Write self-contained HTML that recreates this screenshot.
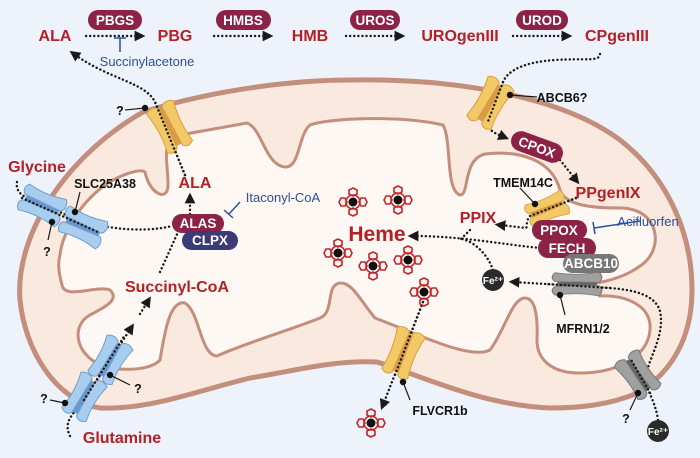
<!DOCTYPE html>
<html><head><meta charset="utf-8"><style>
html,body{margin:0;padding:0;background:#eef3fb}
svg{display:block}
text{font-family:"Liberation Sans",sans-serif}
.r{fill:#b32025;font-weight:bold;font-size:16px}
.k{fill:#111;font-weight:bold;font-size:12.5px}
.b{fill:#2c4f9c;font-size:13px}
.w{fill:#fff;font-weight:bold;font-size:13.5px}
.d{fill:none;stroke:#1a1a1a;stroke-width:2.4;stroke-dasharray:0.1 4;stroke-linecap:round}
.p{fill:none;stroke:#1a1a1a;stroke-width:1.2}
</style></head><body>
<svg width="700" height="458" viewBox="0 0 700 458" xmlns="http://www.w3.org/2000/svg">
<defs>
<g id="chy">
 <rect x="-6" y="-20" width="12" height="40" fill="#d99a4a"/>
 <path d="M-15,-22 Q-8,-27 -2,-22 L-3,22 Q-8,27 -14,22 Q-10,0 -15,-22Z" fill="#f3c866" stroke="#d9a03c" stroke-width="1"/>
 <path d="M15,-22 Q8,-27 2,-22 L3,22 Q8,27 14,22 Q10,0 15,-22Z" fill="#f3c866" stroke="#d9a03c" stroke-width="1"/>
</g>
<g id="chb">
 <rect x="-6" y="-18" width="12" height="36" fill="#6b98cc"/>
 <path d="M-15,-20 Q-8,-25 -2,-20 L-3,20 Q-8,25 -14,20 Q-10,0 -15,-20Z" fill="#a8cdee" stroke="#6f9fd0" stroke-width="1"/>
 <path d="M15,-20 Q8,-25 2,-20 L3,20 Q8,25 14,20 Q10,0 15,-20Z" fill="#a8cdee" stroke="#6f9fd0" stroke-width="1"/>
</g>
<g id="chg">
 <rect x="-6" y="-18" width="12" height="36" fill="#666"/>
 <path d="M-15,-20 Q-8,-25 -2,-20 L-3,20 Q-8,25 -14,20 Q-10,0 -15,-20Z" fill="#a0a0a0" stroke="#777" stroke-width="1"/>
 <path d="M15,-20 Q8,-25 2,-20 L3,20 Q8,25 14,20 Q10,0 15,-20Z" fill="#a0a0a0" stroke="#777" stroke-width="1"/>
</g>
<g id="hm" fill="none" stroke="#c0262a" stroke-width="1.6">
 <circle r="7"/>
 <polygon points="0,-14 4,-12 4,-8 0,-6 -4,-8 -4,-12"/>
 <polygon points="0,14 4,12 4,8 0,6 -4,8 -4,12"/>
 <polygon points="-14,0 -12,4 -8,4 -6,0 -8,-4 -12,-4"/>
 <polygon points="14,0 12,4 8,4 6,0 8,-4 12,-4"/>
 <circle r="4.5" fill="#111" stroke="none"/>
</g>
<marker id="ar" viewBox="0 0 10 10" refX="5" refY="5" markerWidth="4.5" markerHeight="4.5" orient="auto"><path d="M0,0 L10,5 L0,10Z" fill="#1a1a1a"/></marker>
</defs>
<rect width="700" height="458" fill="#eef3fb"/>
<path d="M20,300 C15,240 60,160 143,112 C220,88 300,80 350,80 C450,78 560,95 620,140 C665,175 692,230 692,290 C692,340 670,372 640,392 C610,405 580,408 550,408 C480,405 420,375 377,362 C330,360 290,372 250,378 C200,390 150,410 100,408 C55,400 25,350 20,300Z" fill="#f9e9df" stroke="#c48e7c" stroke-width="5"/>
<path d="M60,255 C62,235 78,205 105,185 C120,175 140,168 145,172 C150,195 168,202 168,185 C168,160 160,140 180,135 L247,123 C262,128 265,165 285,167 C300,168 298,135 310,125 C330,118 400,115 443,125 C452,140 445,190 460,195 C470,195 462,160 485,154 C520,150 552,160 560,190 C565,205 590,208 620,208 C660,208 665,250 640,266 C625,277 605,282 590,284 L600,296 C625,295 652,305 650,330 C648,355 620,372 583,373 C555,374 537,362 537,340 C538,315 535,298 525,298 C512,298 505,330 490,350 C470,360 420,335 375,318 C360,300 352,282 340,283 C325,285 335,312 320,318 C290,330 240,345 217,356 C200,355 200,312 185,303 C170,300 165,330 160,360 C150,372 110,372 95,362 C75,350 72,325 90,315 C105,307 120,300 110,290 C95,285 65,300 62,285 C58,270 58,262 60,255Z" fill="#fdf8f4" stroke="#c48e7c" stroke-width="3"/>

<text class="r" x="55" y="41" text-anchor="middle">ALA</text>
<text class="r" x="175" y="41" text-anchor="middle">PBG</text>
<text class="r" x="310" y="41" text-anchor="middle">HMB</text>
<text class="r" x="460" y="41" text-anchor="middle">UROgenIII</text>
<text class="r" x="617" y="41" text-anchor="middle">CPgenIII</text>
<g class="d"><path d="M86,36 H140" marker-end="url(#ar)"/><path d="M214,36 H268" marker-end="url(#ar)"/><path d="M346,36 H400" marker-end="url(#ar)"/><path d="M513,36 H567" marker-end="url(#ar)"/></g>
<rect x="88" y="10" width="54" height="20" rx="10" fill="#8c2346"/><text class="w" x="115" y="25" text-anchor="middle">PBGS</text>
<rect x="216" y="10" width="55" height="20" rx="10" fill="#8c2346"/><text class="w" x="243" y="25" text-anchor="middle">HMBS</text>
<rect x="350" y="10" width="50" height="20" rx="10" fill="#8c2346"/><text class="w" x="375" y="25" text-anchor="middle">UROS</text>
<rect x="516" y="10" width="52" height="20" rx="10" fill="#8c2346"/><text class="w" x="542" y="25" text-anchor="middle">UROD</text>
<path d="M120,38 V52 M114,38 H126" stroke="#2c4f9c" stroke-width="1.5"/>
<text class="b" x="147" y="66" text-anchor="middle">Succinylacetone</text>

<g class="d">
<path d="M185,175 L155,102 C145,82 110,80 74,54" marker-end="url(#ar)"/>
<path d="M190,214 V198" marker-end="url(#ar)"/>
<path d="M17,182 C14,200 40,200 60,212 C90,228 140,234 172,226"/>
<path d="M160,272 L178,232"/>
<path d="M70,436 C62,420 76,412 84,400 L131,328" marker-end="url(#ar)"/>
<path d="M140,314 L148,301" marker-end="url(#ar)"/>
<path d="M600,54 C600,62 585,58 555,60 C525,62 508,70 503,82 L487,124 C490,132 497,134 504,137" marker-end="url(#ar)"/>
<path d="M560,160 L576,180" marker-end="url(#ar)"/>
<path d="M576,198 L530,216 C525,222 528,226 526,228 L500,225" marker-end="url(#ar)"/>
<path d="M540,248 C500,244 460,236 413,236" marker-end="url(#ar)"/>
<path d="M470,230 L460,240"/>
<path d="M493,270 C488,255 475,242 462,239"/>
<path d="M645,378 C650,355 665,335 660,311 C655,295 635,290 610,288 L514,282" marker-end="url(#ar)"/>
<path d="M658,420 C656,405 650,395 642,375 L630,358"/>
<path d="M423,302 L383,405" marker-end="url(#ar)"/>
</g>

<use href="#chy" transform="translate(170,127) rotate(-27)"/>
<use href="#chy" transform="translate(490,103) rotate(30)"/>
<use href="#chy" transform="translate(547,209) rotate(68) scale(0.85)"/>
<use href="#chy" transform="translate(403,353) rotate(22)"/>
<use href="#chb" transform="translate(42,205) rotate(114)"/>
<use href="#chb" transform="translate(83,227) rotate(114)"/>
<use href="#chb" transform="translate(110,360) rotate(30)"/>
<use href="#chb" transform="translate(84,397) rotate(30)"/>
<use href="#chg" transform="translate(577,284) rotate(90) scale(0.8,1.1)"/>
<use href="#chg" transform="translate(638,375) rotate(-35)"/>
<g class="d">
<path d="M185,175 L155,102"/><path d="M503,82 L487,124"/><path d="M576,198 L530,216"/><path d="M423,302 L395,375"/>
<path d="M22,198 L100,233"/><path d="M84,400 L125,335"/><path d="M610,288 L545,284"/><path d="M650,393 L630,358"/>
</g>

<g class="p">
<path d="M145,108 L125,110"/><path d="M510,95 L537,97"/><path d="M535,204 L520,188"/><path d="M403,382 L410,400"/>
<path d="M52,222 L48,240"/><path d="M75,212 L80,192"/><path d="M110,375 L130,385"/><path d="M65,403 L50,400"/>
<path d="M560,295 L565,315"/><path d="M638,393 L630,410"/>
</g>
<g fill="#111"><circle cx="145" cy="108" r="3.2"/><circle cx="510" cy="95" r="3.2"/><circle cx="535" cy="204" r="3.2"/><circle cx="403" cy="382" r="3.2"/><circle cx="52" cy="222" r="3.2"/><circle cx="75" cy="212" r="3.2"/><circle cx="110" cy="375" r="3.2"/><circle cx="65" cy="403" r="3.2"/><circle cx="560" cy="295" r="3.2"/><circle cx="638" cy="393" r="3.2"/></g>
<path d="M240,202 L229,214" stroke="#2c4f9c" stroke-width="1.5"/><path d="M224,210 L233,218" stroke="#2c4f9c" stroke-width="1.5"/>
<path d="M640,221 L594,228 M593,222 L595,234" stroke="#2c4f9c" stroke-width="1.5"/>

<rect x="172" y="214" width="52" height="19" rx="9.5" fill="#8c2346"/><text class="w" x="198" y="228" text-anchor="middle">ALAS</text>
<rect x="182" y="231" width="56" height="19" rx="9.5" fill="#3d3a78"/><text class="w" x="210" y="245" text-anchor="middle">CLPX</text>
<g transform="translate(537,147) rotate(20)"><rect x="-27" y="-10" width="54" height="20" rx="10" fill="#8c2346"/><text class="w" x="0" y="5" text-anchor="middle">CPOX</text></g>
<rect x="532" y="220" width="55" height="20" rx="10" fill="#8c2346"/><text class="w" x="559" y="235" text-anchor="middle">PPOX</text>
<rect x="538" y="238" width="58" height="20" rx="10" fill="#8c2346"/><text class="w" x="567" y="253" text-anchor="middle">FECH</text>
<rect x="563" y="254" width="56" height="19" rx="9.5" fill="#777"/><text class="w" x="591" y="268" text-anchor="middle">ABCB10</text>

<circle cx="493" cy="280" r="11" fill="#2a2a2a"/><text x="493" y="284" text-anchor="middle" fill="#fff" font-size="10" font-weight="bold">Fe²⁺</text>
<circle cx="658" cy="431" r="11" fill="#2a2a2a"/><text x="658" y="435" text-anchor="middle" fill="#fff" font-size="10" font-weight="bold">Fe²⁺</text>

<use href="#hm" transform="translate(353,202)"/><use href="#hm" transform="translate(398,200)"/>
<use href="#hm" transform="translate(338,253)"/><use href="#hm" transform="translate(373,266)"/>
<use href="#hm" transform="translate(408,260)"/><use href="#hm" transform="translate(424,292)"/>
<use href="#hm" transform="translate(371,423)"/>

<text class="r" x="37" y="172" text-anchor="middle">Glycine</text>
<text class="k" x="105" y="188" text-anchor="middle">SLC25A38</text>
<text class="k" x="47" y="256" text-anchor="middle">?</text>
<text class="k" x="120" y="115" text-anchor="middle">?</text>
<text class="r" x="195" y="188" text-anchor="middle">ALA</text>
<text class="b" x="283" y="202" text-anchor="middle">Itaconyl-CoA</text>
<text class="r" x="177" y="292" text-anchor="middle">Succinyl-CoA</text>
<text class="k" x="138" y="393" text-anchor="middle">?</text>
<text class="k" x="44" y="403" text-anchor="middle">?</text>
<text class="r" x="122" y="443" text-anchor="middle">Glutamine</text>
<text class="k" x="562" y="102" text-anchor="middle">ABCB6?</text>
<text class="k" x="523" y="187" text-anchor="middle">TMEM14C</text>
<text class="r" x="608" y="198" text-anchor="middle">PPgenIX</text>
<text class="r" x="478" y="223" text-anchor="middle">PPIX</text>
<text class="b" x="648" y="226" text-anchor="middle">Acifluorfen</text>
<text x="377" y="241" text-anchor="middle" fill="#b32025" font-weight="bold" font-size="21">Heme</text>
<text class="k" x="583" y="333" text-anchor="middle">MFRN1/2</text>
<text class="k" x="440" y="415" text-anchor="middle">FLVCR1b</text>
<text class="k" x="626" y="423" text-anchor="middle">?</text>
</svg>
</body></html>
